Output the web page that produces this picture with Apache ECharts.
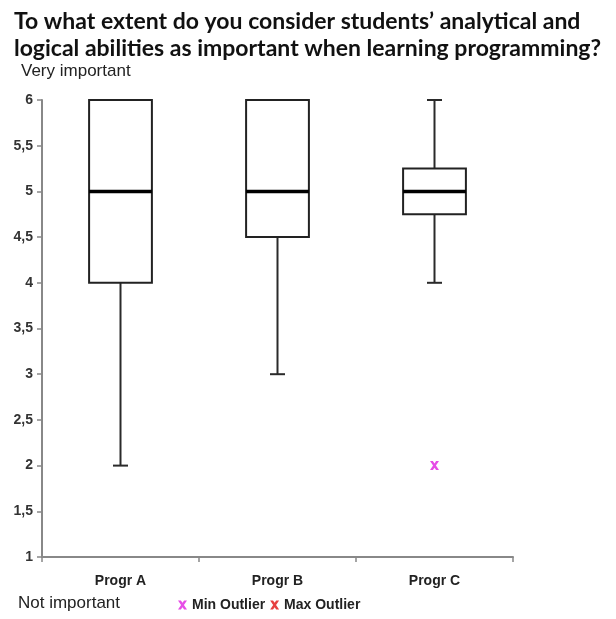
<!DOCTYPE html>
<html>
<head>
<meta charset="utf-8">
<script src="https://cdn.jsdelivr.net/npm/echarts@6/dist/echarts.min.js"></script>
<style>
  html, body { margin: 0; padding: 0; background: #fff; }
  #chart { width: 616px; height: 619px; }
</style>
</head>
<body>
<div id="chart"></div>
<script>
// Programmes on the x axis
const categories = ['Progr A', 'Progr B', 'Progr C'];
// Five-number summaries per programme: [min, Q1, median, Q3, max]
const boxStats = [
  [2, 4, 5, 6, 6],
  [3, 4.5, 5, 6, 6],
  [4, 4.75, 5, 5.25, 6]
];
// Outliers: [category index, value]
const minOutliers = [[2, 2]];
const maxOutliers = [];
// Rating scale
const yMin = 1, yMax = 6, yStep = 0.5;

// Heavy cross marker used for outliers and their legend icons
const xPath = 'path://M0,0 L3.2,0 L5,2.6 L6.8,0 L10,0 L6.6,5 L10,10 L6.8,10 L5,7.4 L3.2,10 L0,10 L3.4,5 Z';

const chart = echarts.init(document.getElementById('chart'), null, { renderer: 'canvas' });

// Box, median bar and whiskers for one programme
function renderBox(params, api) {
  const i = api.value(0);
  const vals = [api.value(1), api.value(2), api.value(3), api.value(4), api.value(5)];
  const band = api.size([1, 0])[0];
  const half = band * 0.2;
  const cap = 7.5;
  const p = vals.map(v => api.coord([i, v]));
  const cx = p[0][0];
  const yMinP = p[0][1], yQ1 = p[1][1], yMed = p[2][1], yQ3 = p[3][1], yMaxP = p[4][1];
  const whisker = { stroke: '#2a2a2a', lineWidth: 2 };
  const children = [
    { type: 'line', shape: { x1: cx, y1: yQ1, x2: cx, y2: yMinP }, style: whisker },
    { type: 'line', shape: { x1: cx, y1: yQ3, x2: cx, y2: yMaxP }, style: whisker },
    { type: 'line', shape: { x1: cx - cap, y1: yMinP, x2: cx + cap, y2: yMinP }, style: whisker },
    { type: 'line', shape: { x1: cx - cap, y1: yMaxP, x2: cx + cap, y2: yMaxP }, style: whisker },
    { type: 'rect', shape: { x: cx - half, y: yQ3, width: half * 2, height: yQ1 - yQ3 },
      style: { fill: '#fff', stroke: '#222', lineWidth: 2 } },
    { type: 'line', shape: { x1: cx - half, y1: yMed, x2: cx + half, y2: yMed },
      style: { stroke: '#000', lineWidth: 3.5 } }
  ];
  return { type: 'group', children };
}

chart.setOption({
  animation: false,
  backgroundColor: '#fff',
  title: {
    text: 'To what extent do you consider students\u2019 analytical and\nlogical abilities as important when learning programming?',
    left: 9, top: 3,
    textStyle: { fontFamily: 'Lato', fontWeight: 'bold', fontSize: 23, lineHeight: 27, color: '#111' }
  },
  graphic: [
    { type: 'text', left: 21, top: 63,
      style: { text: 'Very important', font: '17px "Liberation Sans"', fill: '#222' } },
    { type: 'text', left: 18, top: 595,
      style: { text: 'Not important', font: '17px "Liberation Sans"', fill: '#222' } }
  ],
  legend: {
    left: 178, top: 598,
    padding: 0,
    itemWidth: 9, itemHeight: 9, itemGap: 5,
    textStyle: { fontFamily: 'Liberation Sans', fontSize: 14, fontWeight: 'bold', color: '#222' },
    data: [
      { name: 'Min Outlier', icon: xPath },
      { name: 'Max Outlier', icon: xPath }
    ]
  },
  grid: { left: 42, right: 103, top: 100, bottom: 62 },
  xAxis: {
    type: 'category',
    data: categories,
    boundaryGap: true,
    axisLine: { lineStyle: { color: '#888', width: 2 } },
    axisTick: { show: true, length: 5, lineStyle: { color: '#888', width: 1.5 } },
    axisLabel: { fontFamily: 'Liberation Sans', fontSize: 14, fontWeight: 'bold', color: '#222', margin: 17 },
    splitLine: { show: false }
  },
  yAxis: {
    type: 'value',
    min: yMin, max: yMax, interval: yStep,
    axisLine: { show: true, lineStyle: { color: '#888', width: 2 } },
    axisTick: { show: true, length: 5, lineStyle: { color: '#888', width: 1.5 } },
    axisLabel: {
      fontFamily: 'Liberation Sans', fontSize: 14, fontWeight: 'bold', color: '#333', margin: 9,
      formatter: v => String(v).replace('.', ',')
    },
    splitLine: { show: false }
  },
  series: [
    {
      name: 'Box',
      type: 'custom',
      renderItem: renderBox,
      encode: { x: 0, y: [1, 2, 3, 4, 5] },
      data: boxStats.map((s, i) => [i, ...s]),
      z: 2
    },
    {
      name: 'Min Outlier',
      type: 'scatter',
      symbol: xPath,
      symbolSize: [9, 9],
      itemStyle: { color: '#e020e0' },
      data: minOutliers,
      z: 3
    },
    {
      name: 'Max Outlier',
      type: 'scatter',
      symbol: xPath,
      symbolSize: [9, 9],
      itemStyle: { color: '#e01010' },
      data: maxOutliers,
      z: 3
    }
  ]
});
</script>
</body>
</html>
